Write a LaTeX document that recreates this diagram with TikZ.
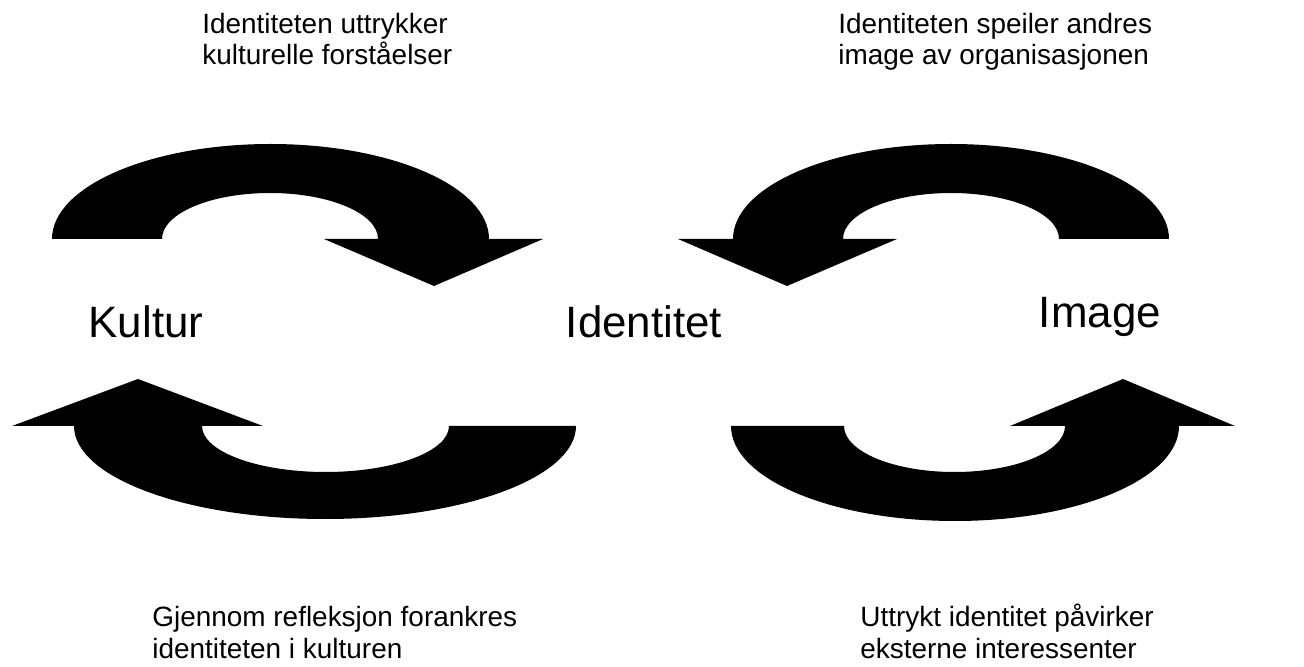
\documentclass[tikz,border=0pt]{standalone}
\usepackage{fontspec}
\setmainfont{Liberation Sans}
\usepackage{tikz}
\usetikzlibrary{positioning}

\begin{document}
\begin{tikzpicture}[x=0.02cm, y=0.02cm,
  bend arrow/.style={fill=black, draw=none},
  concept/.style={font=\fontsize{25}{30}\selectfont, inner sep=0pt, anchor=base},
  caption/.style={font=\fontsize{15.9}{18.2}\selectfont, inner sep=0pt, align=left, anchor=base west}]
\useasboundingbox (0,0) rectangle (1304,666);

% top left: kultur -> identitet
\fill[bend arrow] (52,427) arc[start angle=180, end angle=0, x radius=218.5, y radius=95]
  -- (543,427) -- (434,380) -- (324,427) -- (378,427)
  arc[start angle=0, end angle=180, x radius=108, y radius=46] -- cycle;

% top right: image -> identitet
\fill[bend arrow] (1169,427) arc[start angle=0, end angle=180, x radius=218, y radius=95]
  -- (678,427) -- (787,380) -- (897,427) -- (843,427)
  arc[start angle=180, end angle=0, x radius=108, y radius=46] -- cycle;

% bottom left: identitet -> kultur
\fill[bend arrow] (576,240) arc[start angle=0, end angle=-180, x radius=251, y radius=93]
  -- (12,240) -- (138,287) -- (263,240) -- (202,240)
  arc[start angle=180, end angle=360, x radius=123.5, y radius=46] -- cycle;

% bottom right: identitet -> image
\fill[bend arrow] (731,240) arc[start angle=180, end angle=360, x radius=224, y radius=95]
  -- (1235,240) -- (1123,287) -- (1010,240) -- (1065,240)
  arc[start angle=0, end angle=-180, x radius=110.5, y radius=46] -- cycle;

\node[concept] (kultur) at (146,328) {Kultur};
\node[concept] (identitet) at (644,328) {Identitet};
\node[concept] (image) at (1100,338) {Image};

% captions: base = baseline of the last line
\node[caption] (uttrykker) at (202,601) {Identiteten uttrykker\\kulturelle forståelser};
\node[caption] (speiler) at (838,601) {Identiteten speiler andres\\image av organisasjonen};
\node[caption] (forankres) at (152,8) {Gjennom refleksjon forankres\\identiteten i kulturen};
\node[caption] (paavirker) at (860,8) {Uttrykt identitet påvirker\\eksterne interessenter};
\end{tikzpicture}
\end{document}
